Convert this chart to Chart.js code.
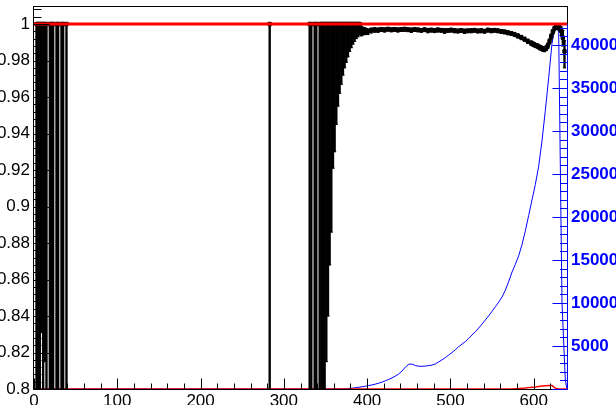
<!DOCTYPE html>
<html>
<head>
<meta charset="utf-8">
<script src="https://cdn.jsdelivr.net/npm/chart.js@4.4.1/dist/chart.umd.min.js"></script>
<style>
  html, body { margin: 0; padding: 0; background: #fff; }
  canvas { display: block; }
</style>
</head>
<body>
<canvas id="effChart" width="616" height="405"></canvas>
<script>
// efficiency per bin: bin centre, value and asymmetric errors
const effX = [
  3, 5, 7, 9, 11, 13, 15, 19, 21, 23, 27, 29, 33, 35, 39,
  283,
  331, 333, 337, 339, 343, 345, 347, 349,
  351, 353, 355, 357, 359, 361, 363, 365, 367, 369, 371, 373, 375, 377, 379, 381, 383, 385, 387, 389, 391, 393, 395, 397, 399,
  401, 405, 409, 413, 417, 421, 425, 429, 433, 437,
  441, 445, 449, 453, 457, 461, 465, 469, 473, 477,
  481, 485, 489, 493, 497, 501, 505, 509, 513, 517,
  521, 525, 529, 533, 537, 541, 545, 549, 553, 557,
  561, 565, 569, 573, 577, 581, 585, 589, 593, 597,
  599, 601, 603, 605, 607, 609, 611, 613, 615, 617,
  619, 621, 623, 625, 627, 629, 631, 633, 635, 637
];
const effVal = [
  1, 1, 1, 1, 1, 1, 1, 1, 1, 1, 1, 1, 1, 1, 1,
  1,
  1, 1, 1, 1, 1, 1, 1, 1,
  1, 1, 1, 1, 1, 1, 1, 1, 1, 1, 1, 1, 1, 1, 1, 1, 1, 1, 1, 1, 1, 0.9975, 0.9970, 0.9967, 0.9964,
  0.9960, 0.9966, 0.9969, 0.9967, 0.9971, 0.9968, 0.9972, 0.9969, 0.9971, 0.9968,
  0.9970, 0.9972, 0.9969, 0.9967, 0.9970, 0.9968, 0.9966, 0.9969, 0.9965, 0.9967,
  0.9964, 0.9968, 0.9966, 0.9963, 0.9965, 0.9967, 0.9964, 0.9962, 0.9965, 0.9961,
  0.9963, 0.9964, 0.9966, 0.9962, 0.9964, 0.9961, 0.9967, 0.9964, 0.9966, 0.9963,
  0.9960, 0.9957, 0.9953, 0.9949, 0.9943, 0.9935, 0.9927, 0.9917, 0.9906, 0.9896,
  0.9891, 0.9886, 0.9882, 0.9878, 0.9872, 0.9868, 0.9864, 0.9862, 0.9868, 0.9882,
  0.9905, 0.9932, 0.9958, 0.9976, 0.9984, 0.9986, 0.9979, 0.9962, 0.9925, 0.9850
];
const effErrLow = [
  0.5, 0.62, 0.45, 0.169, 0.58, 0.185, 0.7, 0.52, 0.41, 0.6, 0.55, 0.63, 0.5, 0.46, 0.6,
  0.75,
  0.6, 0.5, 0.7, 0.45, 0.66, 0.52, 0.58, 0.4,
  0.185, 0.16, 0.132, 0.114, 0.079, 0.07, 0.055, 0.045, 0.038, 0.033, 0.028, 0.024, 0.021, 0.018, 0.015, 0.013, 0.011, 0.0095, 0.008, 0.007, 0.006, 0.0040, 0.0030, 0.0025, 0.0020,
  0.0018, 0.0015, 0.0014, 0.0013, 0.0012, 0.0012, 0.0011, 0.0012, 0.0011, 0.0012,
  0.0011, 0.0012, 0.0011, 0.0013, 0.0011, 0.0011, 0.0012, 0.0011, 0.0013, 0.0011,
  0.0011, 0.0012, 0.0011, 0.0014, 0.0011, 0.0011, 0.0012, 0.0011, 0.0011, 0.0013,
  0.0011, 0.0012, 0.0011, 0.0011, 0.0012, 0.0011, 0.0011, 0.0012, 0.0011, 0.0011,
  0.0012, 0.0011, 0.0012, 0.0012, 0.0012, 0.0012, 0.0013, 0.0012, 0.0013, 0.0013,
  0.0012, 0.0012, 0.0012, 0.0013, 0.0013, 0.0013, 0.0014, 0.0014, 0.0014, 0.0015,
  0.0015, 0.0015, 0.0014, 0.0013, 0.0013, 0.0013, 0.0016, 0.0025, 0.0045, 0.0090
];
const effErrHigh = [
  0, 0, 0, 0, 0, 0, 0, 0, 0, 0, 0, 0, 0, 0, 0,
  0,
  0, 0, 0, 0, 0, 0, 0, 0,
  0, 0, 0, 0, 0, 0, 0, 0, 0, 0, 0, 0, 0, 0, 0, 0, 0, 0, 0, 0, 0, 0.0012, 0.0012, 0.0012, 0.0012,
  0.0013, 0.0012, 0.0011, 0.0011, 0.0010, 0.0011, 0.0010, 0.0010, 0.0010, 0.0010,
  0.0010, 0.0010, 0.0010, 0.0011, 0.0010, 0.0010, 0.0010, 0.0010, 0.0011, 0.0010,
  0.0010, 0.0010, 0.0010, 0.0011, 0.0010, 0.0010, 0.0010, 0.0010, 0.0010, 0.0011,
  0.0010, 0.0010, 0.0010, 0.0010, 0.0010, 0.0010, 0.0010, 0.0010, 0.0010, 0.0010,
  0.0010, 0.0010, 0.0010, 0.0010, 0.0011, 0.0011, 0.0011, 0.0011, 0.0011, 0.0011,
  0.0011, 0.0011, 0.0011, 0.0012, 0.0012, 0.0012, 0.0012, 0.0012, 0.0012, 0.0013,
  0.0013, 0.0013, 0.0012, 0.0011, 0.0010, 0.0010, 0.0012, 0.0022, 0.0040, 0.0060
];

// spectra on the right axis: bin centres and counts per bin
const histX = [
  0,
  362, 366, 370, 374, 378, 382, 386, 390, 394, 398,
  402, 406, 410, 414, 418, 422, 426, 430, 434, 438,
  442, 446, 450, 454, 458, 462, 466, 470, 474, 478,
  482, 486, 490, 494, 498, 502, 506, 510, 514, 518,
  522, 526, 530, 534, 538, 542, 546, 550, 554, 558,
  562, 566, 570, 574, 578, 582, 586, 590, 594, 598,
  602, 606, 610, 614, 618, 622, 626, 630, 634, 638,
  640
];
const countsAll = [
  0,
  0, 10, 20, 40, 70, 100, 150, 200, 260, 330,
  400, 480, 570, 680, 810, 960, 1120, 1300, 1500, 1750,
  2100, 2550, 2880, 2900, 2720, 2650, 2640, 2670, 2720, 2790,
  2920, 3150, 3400, 3650, 3950, 4250, 4580, 4920, 5230, 5520,
  5900, 6280, 6670, 7100, 7560, 8030, 8520, 9040, 9570, 10100,
  10700, 11500, 12500, 13600, 14500, 15500, 16800, 18400, 20200, 22000,
  23800, 25900, 28900, 32400, 36200, 40200, 42400, 41500, 10000, 1000,
  0
];
const countsSel = [
  0,
  0, 0, 0, 0, 0, 0, 0, 0, 0, 0,
  0, 0, 0, 0, 0, 0, 0, 0, 0, 0,
  0, 0, 0, 0, 0, 0, 0, 0, 0, 0,
  0, 0, 0, 0, 0, 0, 0, 0, 0, 0,
  0, 0, 0, 0, 0, 0, 0, 0, 0, 0,
  0, 0, 0, 0, 40, 60, 90, 120, 160, 200,
  240, 290, 340, 390, 420, 400, 100, 0, 0, 0,
  0
];

const xTicks = [0, 100, 200, 300, 400, 500, 600];
const effTicks = [0.8, 0.82, 0.84, 0.86, 0.88, 0.9, 0.92, 0.94, 0.96, 0.98, 1];
const countTicks = [5000, 10000, 15000, 20000, 25000, 30000, 35000, 40000];

const effLevel = 1;
const xMin = 0, xMax = 640;
const effMin = 0.8, effMax = 1.00932;
const countMax = 44430;
const countAxisTop = 42450;

const FONT = 'Liberation Sans, Arial, Helvetica, sans-serif';
const BLUE = '#0000ff';
const RED = '#ff0000';

// frame plus ROOT-style inward tick marks
const rootAxes = {
  id: 'rootAxes',
  afterDatasetsDraw(chart) {
    const { ctx, chartArea: a } = chart;
    const { x, y, y2 } = chart.scales;
    const snap = v => Math.round(v) + 0.5;
    const L = a.left - 0.5, B = a.bottom + 0.5, R = a.right + 0.5;
    ctx.save();
    ctx.lineWidth = 1;
    ctx.strokeStyle = '#000';
    ctx.strokeRect(L, a.top - 0.5, R - L, B - (a.top - 0.5));

    ctx.beginPath();
    for (let v = xMin; v <= xMax; v += 20) {
      const px = snap(x.getPixelForValue(v));
      const len = v % 100 === 0 ? 11 : 6;
      ctx.moveTo(px, B);
      ctx.lineTo(px, B - len);
    }
    for (let k = 0; effMin + k * 0.004 <= effMax; k++) {
      const py = snap(y.getPixelForValue(effMin + k * 0.004));
      const len = k % 5 === 0 ? 16 : 8;
      ctx.moveTo(L, py);
      ctx.lineTo(L + len, py);
    }
    ctx.stroke();

    // right-hand axis for the spectra
    ctx.strokeStyle = BLUE;
    ctx.beginPath();
    ctx.moveTo(R, snap(y2.getPixelForValue(0)));
    ctx.lineTo(R, snap(y2.getPixelForValue(countAxisTop)));
    for (let v = 0; v <= countAxisTop; v += 1000) {
      const py = snap(y2.getPixelForValue(v));
      const len = v % 5000 === 0 ? 15 : 7.5;
      ctx.moveTo(R, py);
      ctx.lineTo(R - len, py);
    }
    ctx.stroke();
    ctx.restore();
  }
};

const errBars = effX.map((x, i) => ({ x, y: [effVal[i] - effErrLow[i], effVal[i] + effErrHigh[i]] }));
const errCaps = effX.map((x, i) => ({ x, y: effVal[i] - effErrLow[i] }))
  .concat(effX.map((x, i) => ({ x, y: effVal[i] + effErrHigh[i] })));

const noGrid = { display: false, drawTicks: false, offset: false };

new Chart(document.getElementById('effChart'), {
  type: 'scatter',
  data: {
    datasets: [
      {
        type: 'line', order: 0,
        data: [{ x: xMin, y: effLevel }, { x: xMax, y: effLevel }],
        borderColor: RED, borderWidth: 3, pointRadius: 0
      },
      {
        type: 'scatter', order: 1,
        data: effX.map((x, i) => ({ x, y: effVal[i] })),
        pointStyle: 'rect', pointRadius: 2.4,
        backgroundColor: '#000', borderColor: '#000', borderWidth: 1
      },
      {
        type: 'scatter', order: 2,
        data: errCaps,
        pointStyle: 'line', pointRadius: 1.6,
        borderColor: '#000', borderWidth: 1
      },
      {
        type: 'bar', order: 3,
        data: errBars,
        backgroundColor: '#000', borderWidth: 0,
        barThickness: 1.7, grouped: false
      },
      {
        type: 'line', order: 4, yAxisID: 'y2',
        data: histX.map((x, i) => ({ x, y: countsSel[i] })),
        borderColor: RED, borderWidth: 1.5, pointRadius: 0, fill: false
      },
      {
        type: 'line', order: 5, yAxisID: 'y2',
        data: histX.map((x, i) => ({ x, y: countsAll[i] })),
        borderColor: BLUE, borderWidth: 1, pointRadius: 0, fill: false
      }
    ]
  },
  options: {
    responsive: false,
    animation: false,
    events: [],
    layout: { padding: { top: 7, left: 0, right: 0, bottom: 0 }, autoPadding: false },
    plugins: { legend: { display: false }, tooltip: { enabled: false } },
    scales: {
      x: {
        type: 'linear', position: 'bottom', min: xMin, max: xMax, offset: false,
        grid: noGrid, border: { display: false },
        afterBuildTicks: s => { s.ticks = xTicks.map(v => ({ value: v })); },
        afterFit: s => { s.height = 16; s.paddingLeft = 0; s.paddingRight = 0; },
        ticks: {
          padding: 2, maxRotation: 0, autoSkip: false, color: '#000',
          font: { family: FONT, size: 17 }
        }
      },
      y: {
        type: 'linear', position: 'left', min: effMin, max: effMax,
        grid: noGrid, border: { display: false },
        afterBuildTicks: s => { s.ticks = effTicks.map(v => ({ value: v })); },
        afterFit: s => { s.width = 34; s.paddingTop = 0; s.paddingBottom = 0; },
        ticks: {
          padding: 4, autoSkip: false, color: '#000',
          font: { family: FONT, size: 17 },
          callback: v => String(+v.toFixed(2))
        }
      },
      y2: {
        type: 'linear', position: 'right', min: 0, max: countMax,
        grid: noGrid, border: { display: false },
        afterBuildTicks: s => { s.ticks = countTicks.map(v => ({ value: v })); },
        afterFit: s => { s.width = 49; s.paddingTop = 0; s.paddingBottom = 0; },
        ticks: {
          padding: 4, autoSkip: false, color: BLUE,
          font: { family: FONT, size: 17, weight: 'bold' },
          callback: v => String(v)
        }
      }
    }
  },
  plugins: [rootAxes]
});
</script>
</body>
</html>
